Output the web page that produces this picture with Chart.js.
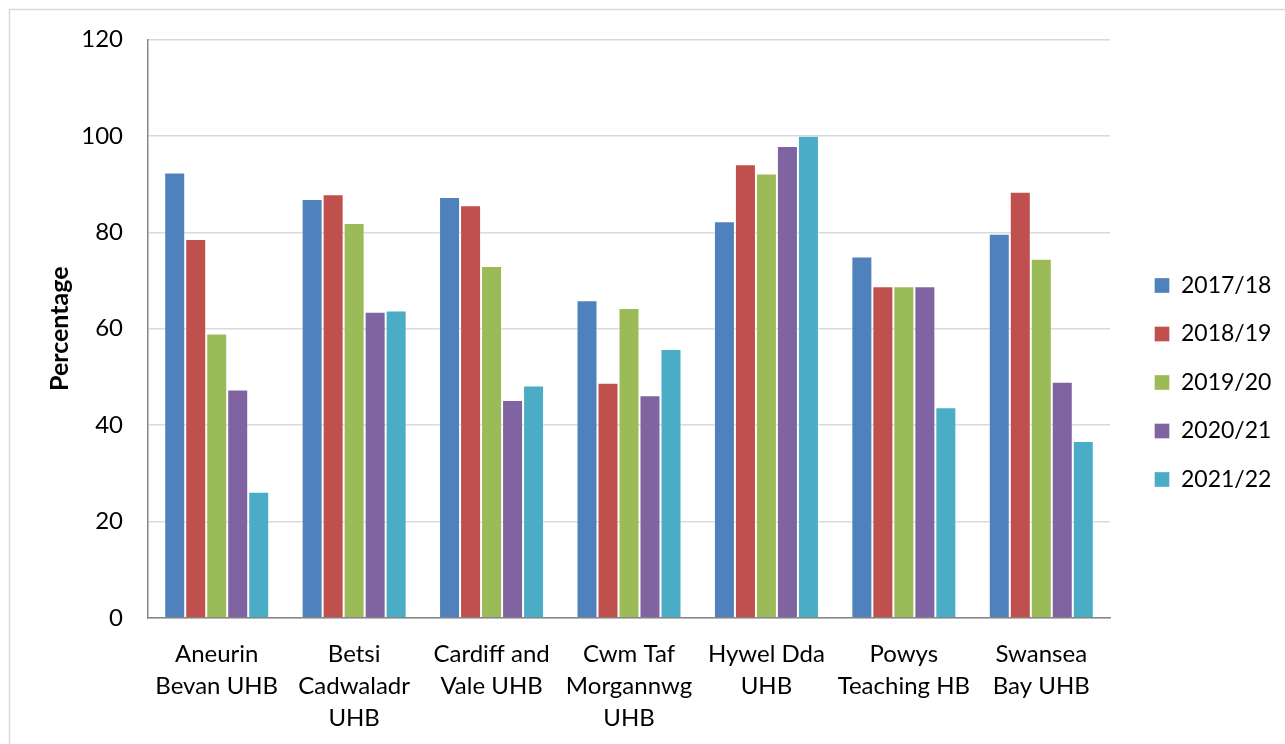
<!DOCTYPE html>
<html>
<head>
<meta charset="utf-8">
<script src="https://cdn.jsdelivr.net/npm/chart.js@4"></script>
<style>
	html, body { margin: 0; padding: 0; background: #fff; overflow: hidden; }
	#wrap { width: 1285px; height: 744px; }
</style>
</head>
<body>
<div id="wrap"><canvas id="myChart" width="1285" height="744"></canvas></div>
<script>
	// categories (health boards), split into label lines
	const boards = [
		["Aneurin", "Bevan UHB"],
		["Betsi", "Cadwaladr", "UHB"],
		["Cardiff and", "Vale UHB"],
		["Cwm Taf", "Morgannwg", "UHB"],
		["Hywel Dda", "UHB"],
		["Powys", "Teaching HB"],
		["Swansea", "Bay UHB"],
	];
	const years = ["2017/18", "2018/19", "2019/20", "2020/21", "2021/22"];

	// percentage per year
	const y2017 = [92.4, 86.9, 87.3, 65.9, 82.3, 75.0, 79.7];
	const y2018 = [78.6, 87.9, 85.6, 48.8, 94.1, 68.8, 88.4];
	const y2019 = [59.0, 81.9, 73.0, 64.3, 92.2, 68.8, 74.5];
	const y2020 = [47.4, 63.5, 45.2, 46.2, 97.9, 68.8, 49.0];
	const y2021 = [26.2, 63.8, 48.2, 55.8, 100, 43.7, 36.7];

	const yTicks = [0, 20, 40, 60, 80, 100, 120];

	const seriesValues = [y2017, y2018, y2019, y2020, y2021];
	const colors = ["#4F81BD", "#C0504D", "#9BBB59", "#8064A2", "#4BACC6"];

	const fontFamily = "Lato, 'Open Sans', sans-serif";

	var datasets = [];
	for (let i = 0; i < years.length; i++) {
		datasets.push({
			label: years[i],
			data: seriesValues[i],
			backgroundColor: colors[i],
			borderColor: "rgba(255,255,255,0.35)",
			borderWidth: 1,
			categoryPercentage: 0.764,
			barPercentage: 1.0,
		});
	}

	// outer frame + legend placement tweaks
	const framePlugin = {
		id: "frame",
		afterInit(chart) {
			const lg = chart.legend;
			if (lg) {
				const fit = lg.fit;
				lg.fit = function () {
					fit.call(this);
					this.width = 175; // keep plot right edge at 1110
				};
			}
		},
		beforeDraw(chart) {
			const ctx = chart.ctx;
			ctx.save();
			ctx.strokeStyle = "#d9d9d9";
			ctx.lineWidth = 1.5;
			ctx.strokeRect(9.5, 9.5, 1400, 900);
			ctx.restore();
		},
		afterLayout(chart) {
			const lg = chart.legend;
			if (lg) {
				lg.left += 19;
			}
		},
	};

	var ctx = document.getElementById("myChart").getContext("2d");
	var chartCanvas = new Chart(ctx, {
		type: "bar",
		data: {
			labels: boards,
			datasets: datasets,
		},
		options: {
			responsive: false,
			animation: false,
			layout: {
				padding: { top: 31, right: 0, bottom: 10, left: 20 },
			},
			plugins: {
				legend: {
					position: "right",
					labels: {
						boxWidth: 15,
						boxHeight: 15,
						padding: 25.5,
						color: "#000",
						font: { family: fontFamily, size: 23 },
					},
				},
				tooltip: { enabled: false },
			},
			scales: {
				x: {
					grid: { display: false, drawTicks: false },
					border: { color: "#868686", width: 1.5 },
					ticks: {
						color: "#000",
						padding: 20,
						maxRotation: 0,
						autoSkip: false,
						font: { family: fontFamily, size: 24, lineHeight: "32px" },
					},
					afterFit(scale) {
						scale.height = 116;
					},
				},
				y: {
					min: 0,
					max: 120,
					afterBuildTicks(scale) {
						scale.ticks = yTicks.map((v) => ({ value: v }));
					},
					grid: { color: "#d9d9d9", lineWidth: 1.5, drawTicks: false },
					border: { color: "#868686", width: 1.5 },
					ticks: {
						color: "#000",
						padding: 25,
						font: { family: fontFamily, size: 24 },
					},
					title: {
						display: true,
						text: "Percentage",
						color: "#000",
						font: { family: fontFamily, size: 25, weight: "bold" },
						padding: { top: 25, bottom: 0 },
					},
					afterFit(scale) {
						scale.width = 128;
					},
				},
			},
		},
		plugins: [framePlugin],
	});
</script>
</body>
</html>
